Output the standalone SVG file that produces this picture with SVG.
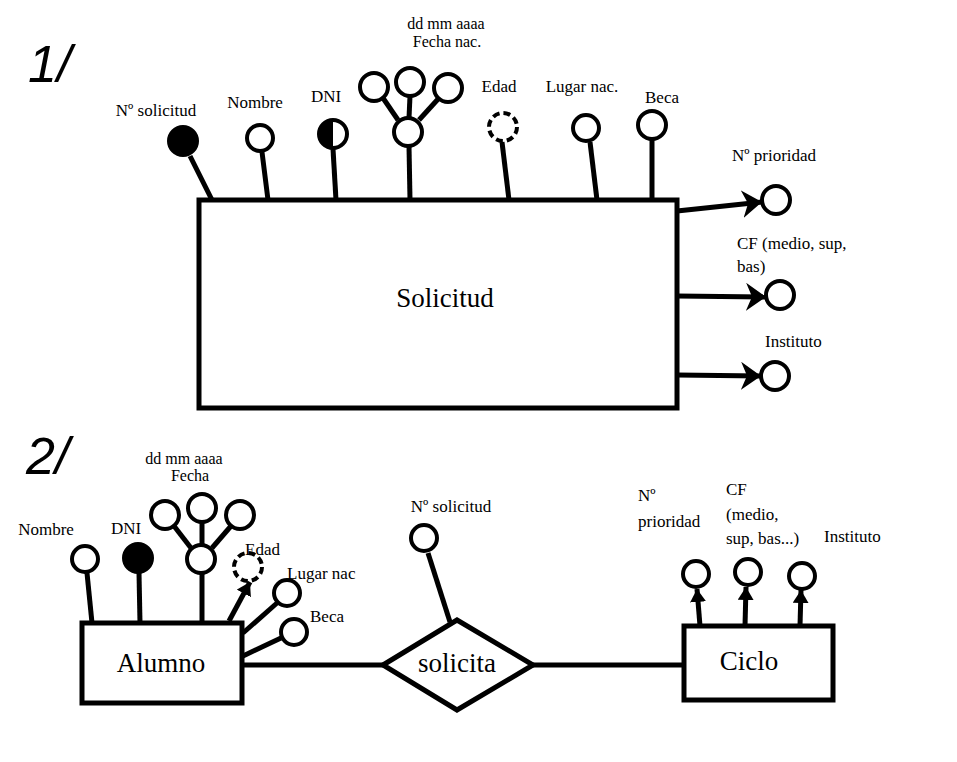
<svg xmlns="http://www.w3.org/2000/svg" width="957" height="762" viewBox="0 0 957 762">
<style>
.l{stroke:#000;stroke-width:5;fill:none;stroke-linecap:butt}
.c{stroke:#000;stroke-width:4;fill:#fff}
.f{stroke:#000;stroke-width:4;fill:#000}
.d{stroke:#000;stroke-width:4;fill:#fff;stroke-dasharray:7 4}
.box{stroke:#000;stroke-width:5;fill:#fff}
text{font-family:"Liberation Serif","DejaVu Serif",serif;fill:#000}
.t{font-size:17px}
.s{font-size:16px}
.big{font-size:27px}
.hand{font-family:"Liberation Sans",sans-serif;font-style:italic;font-size:52px}
</style>
<defs>
<marker id="ah" markerUnits="userSpaceOnUse" markerWidth="24" markerHeight="30" refX="20" refY="14" orient="auto">
<path d="M0,0 L20,14 L0,28 L6,14 Z" fill="#000"/>
</marker>
<marker id="as" markerUnits="userSpaceOnUse" markerWidth="18" markerHeight="18" refX="13" refY="8" orient="auto">
<path d="M0,0 L13,8 L0,16 Z" fill="#000"/>
</marker>
</defs>

<text class="hand" x="28" y="82">1/</text>
<text class="hand" x="26" y="474">2/</text>

<g id="connectors">
<line class="l" x1="190" y1="156" x2="212" y2="200"/>
<line class="l" x1="262" y1="152" x2="268" y2="200"/>
<line class="l" x1="333" y1="149" x2="336" y2="200"/>
<line class="l" x1="409" y1="146" x2="410" y2="200"/>
<line class="l" x1="398" y1="120" x2="383" y2="98"/>
<line class="l" x1="409" y1="118" x2="410" y2="96"/>
<line class="l" x1="419" y1="120" x2="439" y2="98"/>
<line class="l" x1="502" y1="142" x2="509" y2="200"/>
<line class="l" x1="590" y1="142" x2="597" y2="200"/>
<line class="l" x1="652" y1="140" x2="652" y2="205"/>
<line class="l" x1="677" y1="211" x2="762" y2="202" marker-end="url(#ah)"/>
<line class="l" x1="677" y1="296" x2="766" y2="297" marker-end="url(#ah)"/>
<line class="l" x1="677" y1="375" x2="761" y2="376" marker-end="url(#ah)"/>
<line class="l" x1="87" y1="573" x2="92" y2="623"/>
<line class="l" x1="139" y1="573" x2="140" y2="623"/>
<line class="l" x1="202" y1="573" x2="202" y2="623"/>
<line class="l" x1="191" y1="548" x2="174" y2="526"/>
<line class="l" x1="202" y1="545" x2="202" y2="522"/>
<line class="l" x1="212" y1="548" x2="231" y2="526"/>
<line class="l" x1="229" y1="621" x2="250" y2="582" marker-end="url(#as)"/>
<line class="l" x1="243" y1="633" x2="277" y2="603"/>
<line class="l" x1="243" y1="656" x2="281" y2="638"/>
<line class="l" x1="243" y1="665" x2="383" y2="665"/>
<line class="l" x1="428" y1="553" x2="450" y2="622"/>
<line class="l" x1="533" y1="665" x2="684" y2="665"/>
<line class="l" x1="700" y1="626" x2="697" y2="589" marker-end="url(#as)"/>
<line class="l" x1="745" y1="626" x2="746" y2="587" marker-end="url(#as)"/>
<line class="l" x1="800" y1="626" x2="801" y2="590" marker-end="url(#as)"/>
</g>

<g id="solicitud">
<rect class="box" x="199" y="200" width="478" height="208"/>
<text class="big" x="445" y="307" text-anchor="middle">Solicitud</text>
</g>

<g id="s-nsolicitud">
<circle class="f" cx="183" cy="141" r="14"/>
<text class="t" x="156" y="116" text-anchor="middle">Nº solicitud</text>
</g>
<g id="s-nombre">
<circle class="c" cx="260" cy="138" r="13"/>
<text class="t" x="255" y="108" text-anchor="middle">Nombre</text>
</g>
<g id="s-dni">
<circle class="c" cx="333" cy="134" r="14"/>
<path d="M333,120 A14,14 0 0 0 333,148 Z" fill="#000"/>
<text class="t" x="326" y="102" text-anchor="middle">DNI</text>
</g>
<g id="s-fecha">
<circle class="c" cx="408" cy="132" r="14"/>
<circle class="c" cx="374" cy="87" r="14"/>
<circle class="c" cx="410" cy="82" r="14"/>
<circle class="c" cx="448" cy="88" r="14"/>
<text class="s" x="446" y="29" text-anchor="middle">dd mm aaaa</text>
<text class="s" x="447" y="47" text-anchor="middle">Fecha nac.</text>
</g>
<g id="s-edad">
<circle class="d" cx="503" cy="127" r="14"/>
<text class="t" x="499" y="92" text-anchor="middle">Edad</text>
</g>
<g id="s-lugar">
<circle class="c" cx="586" cy="128" r="13"/>
<text class="t" x="582" y="92" text-anchor="middle">Lugar nac.</text>
</g>
<g id="s-beca">
<circle class="c" cx="652" cy="125" r="14"/>
<text class="t" x="662" y="103" text-anchor="middle">Beca</text>
</g>
<g id="s-prioridad">
<circle class="c" cx="776" cy="200" r="14"/>
<text class="t" x="732" y="161">Nº prioridad</text>
</g>
<g id="s-cf">
<circle class="c" cx="780" cy="295" r="14"/>
<text class="t" x="737" y="249">CF (medio, sup,</text>
<text class="t" x="737" y="272">bas)</text>
</g>
<g id="s-instituto">
<circle class="c" cx="775" cy="376" r="14"/>
<text class="t" x="765" y="347">Instituto</text>
</g>

<g id="alumno">
<rect class="box" x="82" y="623" width="160" height="80"/>
<text class="big" x="161" y="672" text-anchor="middle">Alumno</text>
</g>
<g id="a-nombre">
<circle class="c" cx="85" cy="559" r="13"/>
<text class="t" x="46" y="535" text-anchor="middle">Nombre</text>
</g>
<g id="a-dni">
<circle class="f" cx="138" cy="558" r="14"/>
<text class="t" x="126" y="534" text-anchor="middle">DNI</text>
</g>
<g id="a-fecha">
<circle class="c" cx="201" cy="559" r="14"/>
<circle class="c" cx="165" cy="515" r="14"/>
<circle class="c" cx="202" cy="508" r="14"/>
<circle class="c" cx="240" cy="515" r="14"/>
<text class="s" x="184" y="464" text-anchor="middle">dd mm aaaa</text>
<text class="s" x="190" y="481" text-anchor="middle">Fecha</text>
</g>
<g id="a-edad">
<circle class="d" cx="248" cy="567" r="14"/>
<text class="t" x="245" y="555">Edad</text>
</g>
<g id="a-lugar">
<circle class="c" cx="287" cy="593" r="13"/>
<text class="t" x="287" y="579">Lugar nac</text>
</g>
<g id="a-beca">
<circle class="c" cx="294" cy="632" r="13"/>
<text class="t" x="310" y="622">Beca</text>
</g>

<g id="solicita">
<polygon class="box" points="383,665 457,620 533,665 457,710"/>
<text class="big" x="457" y="672" text-anchor="middle">solicita</text>
</g>
<g id="r-nsolicitud">
<circle class="c" cx="424" cy="538" r="13"/>
<text class="t" x="451" y="512" text-anchor="middle">Nº solicitud</text>
</g>

<g id="ciclo">
<rect class="box" x="684" y="626" width="149" height="74"/>
<text class="big" x="749" y="670" text-anchor="middle">Ciclo</text>
</g>
<g id="c-prioridad">
<circle class="c" cx="696" cy="574" r="13"/>
<text class="t" x="638" y="501">Nº</text>
<text class="t" x="638" y="527">prioridad</text>
</g>
<g id="c-cf">
<circle class="c" cx="748" cy="572" r="13"/>
<text class="t" x="726" y="495">CF</text>
<text class="t" x="726" y="520">(medio,</text>
<text class="t" x="726" y="544">sup, bas...)</text>
</g>
<g id="c-instituto">
<circle class="c" cx="802" cy="576" r="13"/>
<text class="t" x="824" y="542">Instituto</text>
</g>
</svg>
